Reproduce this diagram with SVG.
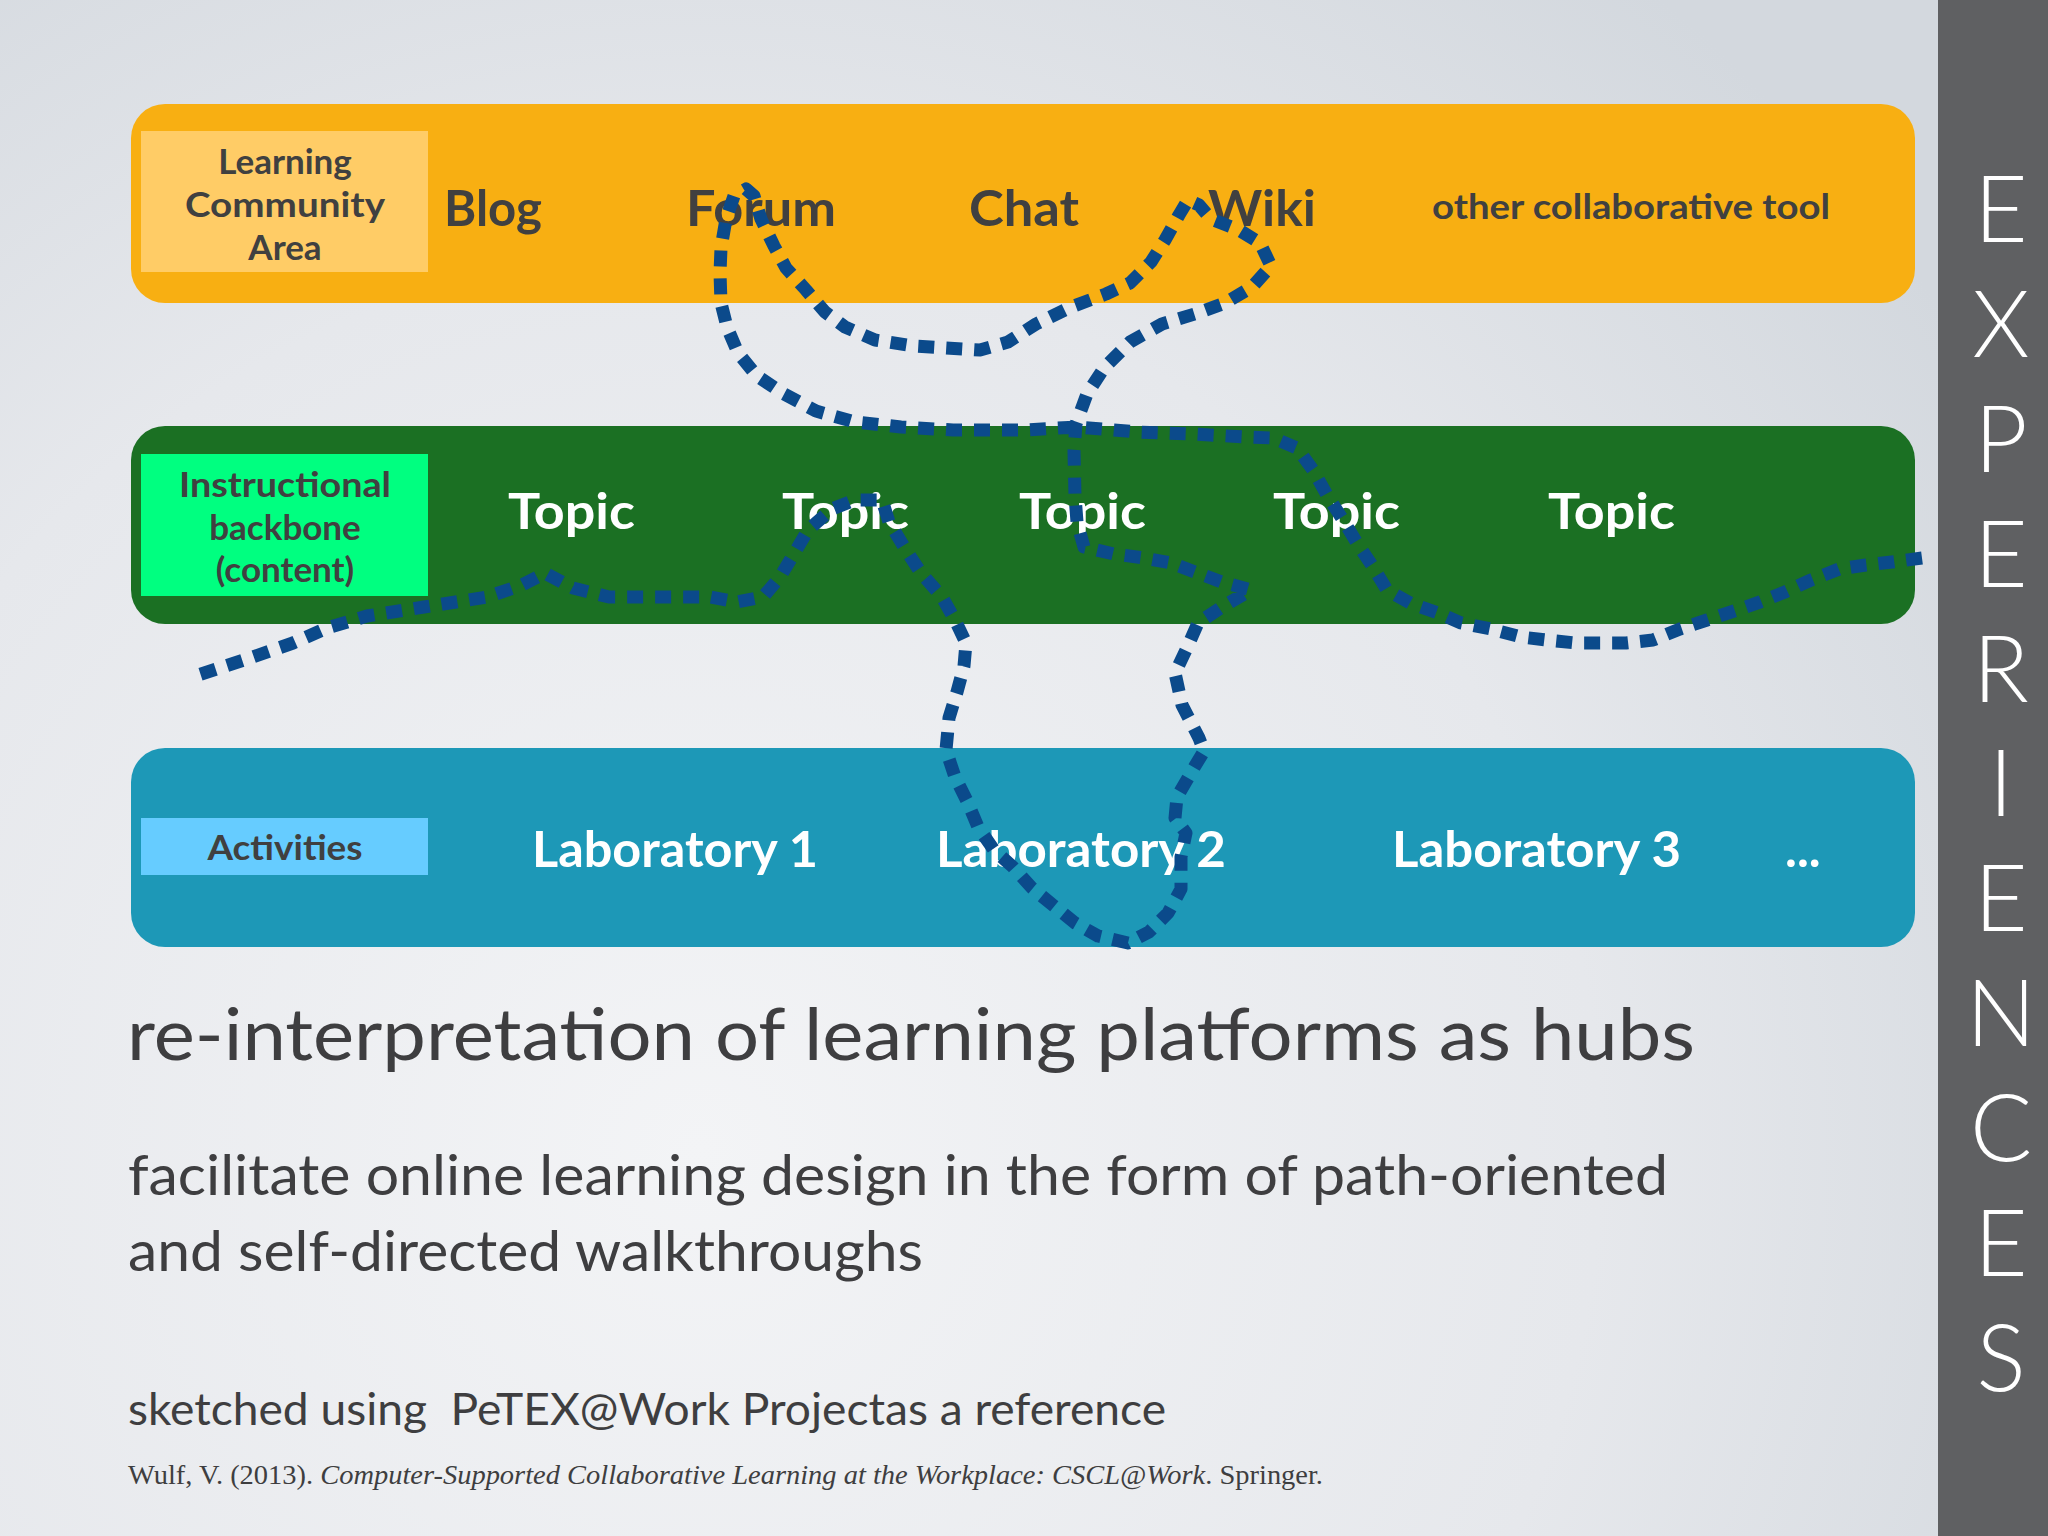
<svg xmlns="http://www.w3.org/2000/svg" width="2048" height="1536" viewBox="0 0 2048 1536">
<defs>
<radialGradient id="bg" cx="700" cy="1150" r="1500" gradientUnits="userSpaceOnUse">
<stop offset="0" stop-color="#f3f4f6"/>
<stop offset="0.6" stop-color="#e6e8ec"/>
<stop offset="1" stop-color="#d3d8de"/>
</radialGradient>
<style>
.band{stroke:none}
.lbl{font-family:"Lato","Open Sans","Liberation Sans",sans-serif;font-weight:700;fill:#404040;text-anchor:middle}
.tool{font-family:"Lato","Open Sans","Liberation Sans",sans-serif;font-weight:700;fill:#404040}
.wt{font-family:"Lato","Open Sans","Liberation Sans",sans-serif;font-weight:700;fill:#ffffff}
.body{font-family:"Lato","Open Sans","Liberation Sans",sans-serif;font-weight:400;fill:#3e3e40}
.exp{font-family:"Lato","Open Sans","Liberation Sans",sans-serif;font-weight:300;fill:#ffffff;text-anchor:middle;font-size:92px}
.path{fill:none;stroke:#0b4a8b;stroke-width:13;stroke-dasharray:16 12;stroke-linejoin:round}
</style>
</defs>
<rect x="0" y="0" width="2048" height="1536" fill="url(#bg)"/>

<g id="community-band">
<rect class="band" x="131" y="104" width="1784" height="199" rx="34" fill="#f8af12"/>
<rect x="141" y="131" width="287" height="141" fill="#ffcc66"/>
<text class="lbl" x="285" y="174" font-size="35">Learning</text>
<text class="lbl" x="285" y="217" font-size="35" textLength="200" lengthAdjust="spacingAndGlyphs">Community</text>
<text class="lbl" x="285" y="260" font-size="35">Area</text>
</g>
<g id="blog"><text class="tool" x="444" y="226" font-size="50" textLength="98" lengthAdjust="spacingAndGlyphs">Blog</text></g>
<g id="forum"><text class="tool" x="686" y="226" font-size="50" textLength="150" lengthAdjust="spacingAndGlyphs">Forum</text></g>
<g id="chat"><text class="tool" x="969" y="226" font-size="50" textLength="110" lengthAdjust="spacingAndGlyphs">Chat</text></g>
<g id="wiki"><text class="tool" x="1208" y="226" font-size="50" textLength="108" lengthAdjust="spacingAndGlyphs">Wiki</text></g>
<g id="other-tool"><text class="tool" x="1432" y="219" font-size="35" textLength="398" lengthAdjust="spacingAndGlyphs">other collaborative tool</text></g>

<g id="backbone-band">
<rect class="band" x="131" y="426" width="1784" height="198" rx="34" fill="#1b7023"/>
<rect x="141" y="454" width="287" height="142" fill="#00ff80"/>
<text class="lbl" x="285" y="497" font-size="35" textLength="212" lengthAdjust="spacingAndGlyphs">Instructional</text>
<text class="lbl" x="285" y="540" font-size="35">backbone</text>
<text class="lbl" x="285" y="582" font-size="35">(content)</text>
</g>
<g id="topic1"><text class="wt" x="508" y="529" font-size="50" textLength="127" lengthAdjust="spacingAndGlyphs">Topic</text></g>
<g id="topic2"><text class="wt" x="782" y="529" font-size="50" textLength="127" lengthAdjust="spacingAndGlyphs">Topic</text></g>
<g id="topic3"><text class="wt" x="1019" y="529" font-size="50" textLength="127" lengthAdjust="spacingAndGlyphs">Topic</text></g>
<g id="topic4"><text class="wt" x="1273" y="529" font-size="50" textLength="127" lengthAdjust="spacingAndGlyphs">Topic</text></g>
<g id="topic5"><text class="wt" x="1548" y="529" font-size="50" textLength="127" lengthAdjust="spacingAndGlyphs">Topic</text></g>

<g id="activities-band">
<rect class="band" x="131" y="748" width="1784" height="199" rx="34" fill="#1d98b7"/>
<rect x="141" y="818" width="287" height="57" fill="#66ccff"/>
<text class="lbl" x="285" y="860" font-size="35" textLength="155" lengthAdjust="spacingAndGlyphs">Activities</text>
</g>
<g id="lab1"><text class="wt" x="532" y="867" font-size="50" textLength="286" lengthAdjust="spacingAndGlyphs">Laboratory 1</text></g>
<g id="lab2"><text class="wt" x="936" y="867" font-size="50" textLength="290" lengthAdjust="spacingAndGlyphs">Laboratory 2</text></g>
<g id="lab3"><text class="wt" x="1392" y="867" font-size="50" textLength="289" lengthAdjust="spacingAndGlyphs">Laboratory 3</text></g>
<g id="more"><text class="wt" x="1785" y="867" font-size="50">...</text></g>

<g id="connectors">
<path class="path" d="M1922,558 L1892,562 L1866,565 L1839,569 L1811,580 L1785,592 L1760,602 L1737,610 L1707,620 L1680,629 L1653,640 L1626,643 L1576,643 L1546,640 L1521,637 L1491,629 L1461,623 L1438,613 L1410,603 L1387,590 L1373,567 L1357,543 L1343,520 L1327,495 L1313,470 L1297,448 L1273,438 L1246,437 L1192,434 L1138,432 L1077,427 L1024,430 L998,430 L953,430 L901,427 L855,422 L816,411 L784,394 L757,376 L738,353 L727,327 L721,303 L720,273 L721,248 L726,219 L734,196 L746,189 L754,196 L761,219 L774,246 L786,268 L806,290 L825,312 L845,327 L875,340 L914,346 L980,350 L1008,342 L1036,324 L1071,307 L1106,294 L1130,283 L1151,262 L1165,240 L1179,215 L1188,200 L1199,205 L1211,219 L1239,230 L1260,243 L1271,266 L1252,287 L1225,303 L1198,313 L1162,324 L1130,342 L1104,368 L1087,394 L1076,424 L1074,451 L1075,496 L1077,522 L1084,547 L1114,554 L1144,558 L1171,563 L1195,572 L1222,582 L1251,590 L1222,607 L1198,623 L1186,650 L1175,673 L1182,705 L1199,738 L1204,751 L1192,771 L1177,797 L1175,818 L1186,833 L1181,857 L1181,889 L1168,913 L1149,932 L1128,943 L1098,936 L1075,923 L1054,906 L1032,888 L1013,867 L994,850 L978,827 L968,803 L955,777 L946,750 L949,718 L957,692 L964,666 L966,643 L955,620 L942,597 L921,573 L906,550 L889,522 L882,500 L855,500 L832,509 L808,530 L795,552 L780,577 L763,597 L737,602 L710,597 L665,597 L609,597 L573,588 L545,573 L522,585 L487,597 L424,607 L367,616 L327,628 L293,643 L250,658 L192,677"/>
</g>

<g id="experiences">
<rect x="1938" y="0" width="110" height="1536" fill="#5f6062"/>
<text class="exp" x="2001" y="242">E</text>
<text class="exp" x="2001" y="357">X</text>
<text class="exp" x="2001" y="472">P</text>
<text class="exp" x="2001" y="587">E</text>
<text class="exp" x="2001" y="702">R</text>
<text class="exp" x="2001" y="816">I</text>
<text class="exp" x="2001" y="931">E</text>
<text class="exp" x="2001" y="1046">N</text>
<text class="exp" x="2001" y="1161">C</text>
<text class="exp" x="2001" y="1276">E</text>
<text class="exp" x="2001" y="1391">S</text>
</g>

<g id="captions">
<text class="body" x="127" y="1060" font-size="72" textLength="1568" lengthAdjust="spacingAndGlyphs">re-interpretation of learning platforms as hubs</text>
<text class="body" x="128" y="1195" font-size="57" textLength="1540" lengthAdjust="spacingAndGlyphs">facilitate online learning design in the form of path-oriented</text>
<text class="body" x="128" y="1271" font-size="57" textLength="795" lengthAdjust="spacingAndGlyphs">and self-directed walkthroughs</text>
<text class="body" x="128" y="1425" font-size="45" textLength="1038" lengthAdjust="spacingAndGlyphs" xml:space="preserve">sketched using  PeTEX@Work Projectas a reference</text>
<text x="128" y="1484" font-family="'Liberation Serif','Times New Roman',serif" font-size="28" fill="#3e3e40" textLength="1195" lengthAdjust="spacingAndGlyphs">Wulf, V. (2013). <tspan font-style="italic">Computer-Supported Collaborative Learning at the Workplace: CSCL@Work</tspan>. Springer.</text>
</g>
</svg>
